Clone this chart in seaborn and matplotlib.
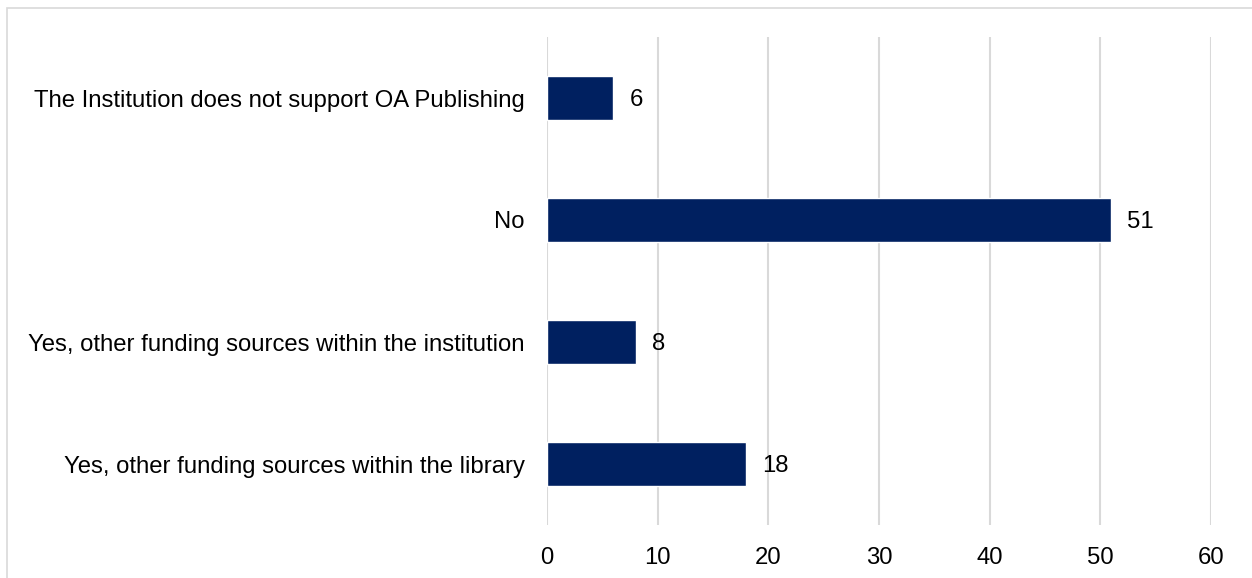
import matplotlib
matplotlib.use("Agg")
import matplotlib.pyplot as plt
from matplotlib.patches import Rectangle
import seaborn as sns
import pandas as pd

categories = [
    "The Institution does not support OA Publishing",
    "No",
    "Yes, other funding sources within the institution",
    "Yes, other funding sources within the library",
]
counts = [6, 51, 8, 18]
x_ticks = [0, 10, 20, 30, 40, 50, 60]

BAR_COLOR = "#002060"
GRID_COLOR = "#d9d9d9"
TEXT_COLOR = "#000000"
FONT_SIZE = 17.2

sns.set_theme(style="white")
plt.rcParams["font.family"] = ["Liberation Sans", "DejaVu Sans"]

df = pd.DataFrame({"category": categories, "count": counts})

fig = plt.figure(figsize=(12.52, 5.78), dpi=100)
fig.patch.set_facecolor("white")

# light outer frame of the chart area
fig.patches.append(Rectangle((7 / 1252, -0.1), 1.2, 1 - 8 / 578 + 0.1,
                             transform=fig.transFigure, fill=False,
                             edgecolor=GRID_COLOR, linewidth=1.2, zorder=0))

ax = fig.add_axes([547 / 1252, 1 - 525 / 578, (1211 - 547) / 1252, (525 - 37) / 578])

sns.barplot(data=df, x="count", y="category", orient="h", color=BAR_COLOR,
            saturation=1, width=0.36, ax=ax, zorder=3)

ax.set_xlim(0, 60)
ax.set_xticks(x_ticks)
ax.set_xticklabels([str(t) for t in x_ticks])
ax.xaxis.grid(True, color=GRID_COLOR, linewidth=1.5, zorder=0)
ax.yaxis.grid(False)
for s in ax.spines.values():
    s.set_visible(False)
ax.tick_params(axis="both", length=0, labelsize=FONT_SIZE, colors=TEXT_COLOR)
ax.tick_params(axis="y", pad=16)
ax.tick_params(axis="x", pad=15.5)
ax.set_xlabel("")
ax.set_ylabel("")

for cont in ax.containers:
    texts = ax.bar_label(cont, labels=[str(v) for v in counts], padding=11.5,
                         fontsize=FONT_SIZE, color=TEXT_COLOR)
    for t in texts:
        t.set_verticalalignment("center_baseline")

fig.savefig("out.png", dpi=100, facecolor="white")
